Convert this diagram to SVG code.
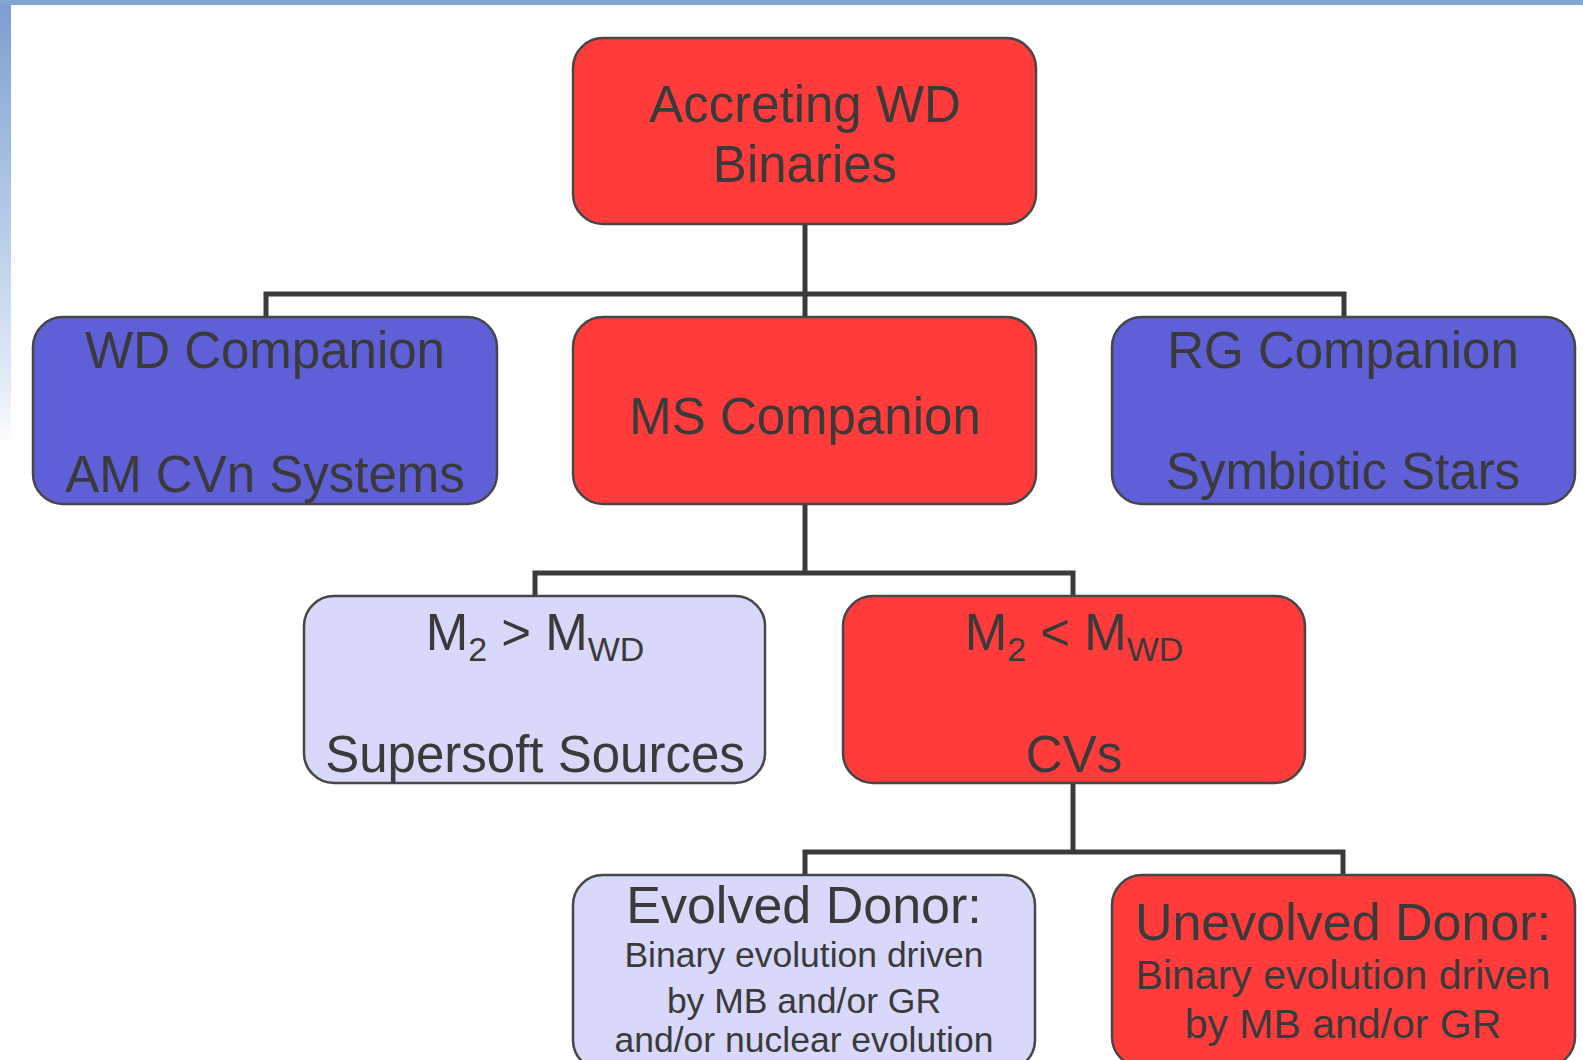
<svg xmlns="http://www.w3.org/2000/svg" width="1583" height="1060" viewBox="0 0 1583 1060">
<defs>
<linearGradient id="side" x1="0" y1="0" x2="0" y2="1">
<stop offset="0" stop-color="#7a9ed0"/>
<stop offset="0.36" stop-color="#e2ebf7"/>
<stop offset="0.42" stop-color="#ffffff"/>
</linearGradient>
</defs>
<style>
.box{stroke:#474747;stroke-width:2.5}
.red{fill:#ff3b3b}
.blue{fill:#5f5fd8}
.lav{fill:#d8d8fa}
.conn{fill:none;stroke:#3a3a3a;stroke-width:5}
text{font-family:"Liberation Sans",Arial,sans-serif;fill:#3a3a3a;text-anchor:middle}
.big{font-size:51px}
.mid{font-size:41px}
.small{font-size:35.5px}
.sub{font-size:34px}
</style>
<rect x="0" y="0" width="1583" height="1060" fill="#ffffff"/>
<rect x="0" y="0" width="11" height="1060" fill="url(#side)"/>
<rect x="0" y="0" width="1583" height="5" fill="#84a5d3"/>

<g id="connectors">
<path class="conn" d="M805 224 V318"/>
<path class="conn" d="M266 318 V294 H1344 V318"/>
<path class="conn" d="M805 505 V573"/>
<path class="conn" d="M535 596 V573 H1073 V596"/>
<path class="conn" d="M1073 783 V852"/>
<path class="conn" d="M805 875 V852 H1343 V875"/>
</g>

<g id="accreting">
<rect class="box red" x="573" y="38" width="463" height="186" rx="30"/>
<text class="big" x="805" y="122">Accreting WD</text>
<text class="big" x="805" y="182">Binaries</text>
</g>

<g id="wd-companion">
<rect class="box blue" x="33" y="317" width="464" height="187" rx="30"/>
<text class="big" x="265" y="368">WD Companion</text>
<text class="big" x="265" y="492">AM CVn Systems</text>
</g>

<g id="ms-companion">
<rect class="box red" x="573" y="317" width="463" height="187" rx="30"/>
<text class="big" x="805" y="434">MS Companion</text>
</g>

<g id="rg-companion">
<rect class="box blue" x="1112" y="317" width="463" height="187" rx="30"/>
<text class="big" x="1343" y="368">RG Companion</text>
<text class="big" x="1343" y="489">Symbiotic Stars</text>
</g>

<g id="supersoft">
<rect class="box lav" x="304" y="596" width="461" height="187" rx="30"/>
<text class="big" x="535" y="650">M<tspan class="sub" dy="11">2</tspan><tspan dy="-11"> &gt; M</tspan><tspan class="sub" dy="11">WD</tspan></text>
<text class="big" x="535" y="772">Supersoft Sources</text>
</g>

<g id="cvs">
<rect class="box red" x="843" y="596" width="462" height="187" rx="30"/>
<text class="big" x="1074" y="650">M<tspan class="sub" dy="11">2</tspan><tspan dy="-11"> &lt; M</tspan><tspan class="sub" dy="11">WD</tspan></text>
<text class="big" x="1074" y="772">CVs</text>
</g>

<g id="evolved">
<rect class="box lav" x="573" y="875" width="462" height="195" rx="30"/>
<text class="big" x="804" y="923" style="font-size:52px">Evolved Donor:</text>
<text class="small" x="804" y="967">Binary evolution driven</text>
<text class="small" x="804" y="1013">by MB and/or GR</text>
<text class="small" x="804" y="1052">and/or nuclear evolution</text>
</g>

<g id="unevolved">
<rect class="box red" x="1112" y="875" width="463" height="192" rx="30"/>
<text class="big" x="1343" y="940" style="font-size:52px">Unevolved Donor:</text>
<text class="mid" x="1343" y="989">Binary evolution driven</text>
<text class="mid" x="1343" y="1038">by MB and/or GR</text>
</g>
</svg>
